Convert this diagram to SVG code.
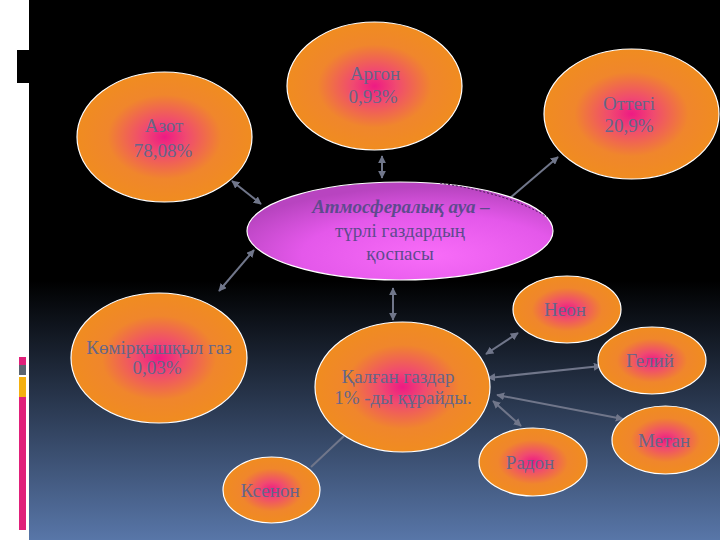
<svg xmlns="http://www.w3.org/2000/svg" width="720" height="540" viewBox="0 0 720 540">
<defs>
<linearGradient id="bg" x1="0" y1="0" x2="0" y2="1">
<stop offset="0" stop-color="#000"/>
<stop offset="0.52" stop-color="#000"/>
<stop offset="1" stop-color="#5876a8"/>
</linearGradient>
<radialGradient id="og" cx="0.5" cy="0.5" r="0.5">
<stop offset="0" stop-color="#ee1a84"/>
<stop offset="0.25" stop-color="#f04a70"/>
<stop offset="0.65" stop-color="#f0862c"/>
<stop offset="1" stop-color="#f08c20"/>
</radialGradient>
<radialGradient id="mg" cx="0.6" cy="0.75" r="0.7">
<stop offset="0" stop-color="#f86cf8"/>
<stop offset="0.6" stop-color="#e458ea"/>
<stop offset="1" stop-color="#b844c0"/>
</radialGradient>
<marker id="ah" viewBox="0 0 10 10" refX="9" refY="5" markerWidth="4" markerHeight="4" orient="auto-start-reverse">
<path d="M0,0 L10,5 L0,10 z" fill="#70768a"/>
</marker>
<style>
.o{fill:url(#og);stroke:#fff;stroke-width:1.2}
.m{fill:url(#mg);stroke:#fff;stroke-width:1.2}
.t{font-family:"Liberation Serif","Times New Roman",serif;font-size:19px;fill:#666688;text-anchor:middle}
.tc{font-family:"Liberation Serif","Times New Roman",serif;font-size:19px;fill:#5e4a8e;text-anchor:middle}
.c{stroke:#70768a;stroke-width:2;fill:none}
.b{marker-start:url(#ah);marker-end:url(#ah)}
.e{marker-end:url(#ah)}
</style>
</defs>
<rect x="0" y="0" width="720" height="540" fill="#fff"/>
<rect x="29" y="0" width="691" height="540" fill="url(#bg)"/>
<rect x="17" y="50" width="12" height="33" fill="#000"/>
<rect x="19" y="357" width="7" height="8" fill="#e0207a"/>
<rect x="19" y="365" width="7" height="10" fill="#5a6470"/>
<rect x="19" y="377" width="7" height="20" fill="#f4b010"/>
<rect x="19" y="397" width="7" height="133" fill="#e0207a"/>

<g id="connectors">
<line class="c b" x1="232" y1="181" x2="261" y2="204"/>
<line class="c b" x1="254" y1="250" x2="219" y2="291"/>
<line class="c b" x1="382" y1="156" x2="382" y2="178"/>
<line class="c e" x1="510" y1="198" x2="558" y2="157"/>
<line class="c b" x1="393" y1="288" x2="393" y2="320"/>
<line class="c b" x1="518" y1="333" x2="486" y2="354"/>
<line class="c b" x1="601" y1="366" x2="488" y2="378"/>
<line class="c b" x1="623" y1="419" x2="497" y2="395"/>
<line class="c b" x1="521" y1="426" x2="493" y2="401"/>
<line class="c" x1="344" y1="436" x2="311" y2="467" stroke="#6a7a9a"/>
</g>

<g id="azot"><ellipse class="o" cx="164.5" cy="137" rx="87.5" ry="65"/>
<text class="t" x="164" y="132">Азот</text><text class="t" x="163" y="157">78,08%</text></g>
<g id="argon"><ellipse class="o" cx="374.5" cy="86" rx="87.5" ry="64"/>
<text class="t" x="375" y="80">Аргон</text><text class="t" x="373" y="103">0,93%</text></g>
<g id="ottegi"><ellipse class="o" cx="631.5" cy="114" rx="87.5" ry="65"/>
<text class="t" x="629" y="110">Оттегі</text><text class="t" x="629" y="132">20,9%</text></g>

<g id="atmosfera"><ellipse class="m" cx="400" cy="231" rx="153" ry="49"/>
<path d="M440,183 Q510,194 547,217" fill="none" stroke="#3a1a4a" stroke-width="1" stroke-dasharray="2,2"/>
<text class="tc" x="401" y="213" font-weight="bold" font-style="italic">Атмосфералық ауа –</text>
<text class="tc" x="400" y="237">түрлі газдардың</text>
<text class="tc" x="400" y="260">қоспасы</text></g>

<g id="kemir"><ellipse class="o" cx="159" cy="358" rx="88" ry="65"/>
<text class="t" x="159" y="354">Көмірқышқыл газ</text><text class="t" x="157" y="374">0,03%</text></g>
<g id="qalgan"><ellipse class="o" cx="402.5" cy="387" rx="87.5" ry="65"/>
<text class="t" x="398" y="383">Қалған газдар</text><text class="t" x="403" y="404">1% -ды құрайды.</text></g>
<g id="neon"><ellipse class="o" cx="567" cy="309.5" rx="54" ry="33.5"/>
<text class="t" x="565" y="316">Неон</text></g>
<g id="geliy"><ellipse class="o" cx="652" cy="360.5" rx="54" ry="33.5"/>
<text class="t" x="650" y="367">Гелий</text></g>
<g id="metan"><ellipse class="o" cx="665.5" cy="440" rx="53.5" ry="34"/>
<text class="t" x="664" y="447">Метан</text></g>
<g id="radon"><ellipse class="o" cx="533" cy="462" rx="54" ry="34"/>
<text class="t" x="530" y="469">Радон</text></g>
<g id="kseon"><ellipse class="o" cx="271.5" cy="490" rx="48.5" ry="33"/>
<text class="t" x="270" y="497">Ксенон</text></g>
</svg>
